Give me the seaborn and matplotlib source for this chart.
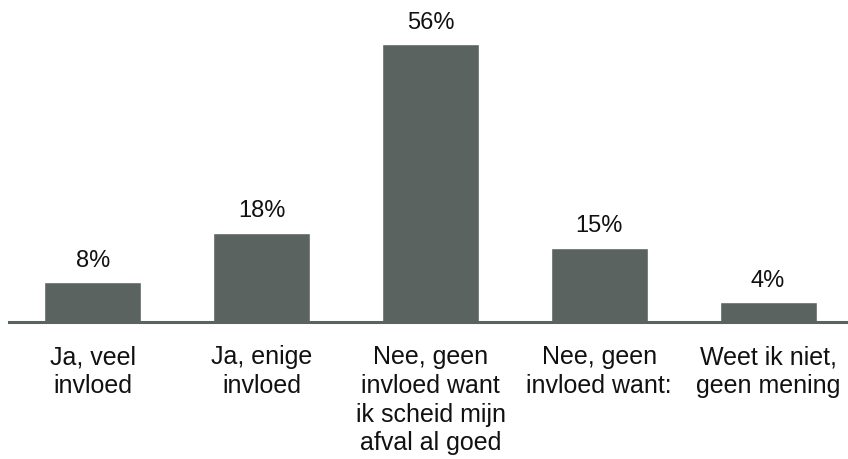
import matplotlib
matplotlib.use("Agg")
import matplotlib.pyplot as plt
import seaborn as sns
import pandas as pd

categories = ["Ja, veel\ninvloed", "Ja, enige\ninvloed",
              "Nee, geen\ninvloed want\nik scheid mijn\nafval al goed",
              "Nee, geen\ninvloed want:", "Weet ik niet,\ngeen mening"]
values = [8, 18, 56, 15, 4]
labels = ["8%", "18%", "56%", "15%", "4%"]

sns.set_theme(style="white")
plt.rcParams['font.family'] = ['Liberation Sans', 'DejaVu Sans']

df = pd.DataFrame({"cat": categories, "val": values})
fig = plt.figure(figsize=(8.48, 4.6), dpi=100)
ax = fig.add_axes([8.6/848, 137/460, 843.8/848, 323/460])
sns.barplot(data=df, x="cat", y="val", color="#5a6360", saturation=1,
            width=0.575, ax=ax)
ax.set_xlim(-0.5, 4.5)
ax.set_ylim(0, 65.1)
for i, (v, l) in enumerate(zip(values, labels)):
    ax.text(i, v + 2.3, l, ha="center", va="bottom", fontsize=17, color="#111111")
for s in ["top", "right", "left"]:
    ax.spines[s].set_visible(False)
ax.spines["bottom"].set_color("#5a6360")
ax.spines["bottom"].set_linewidth(2.2)
ax.spines["bottom"].set_bounds(-0.5, 4.5)
ax.set_yticks([])
ax.set_xlabel("")
ax.set_ylabel("")
ax.tick_params(axis="x", length=0, pad=16, labelsize=18, labelcolor="#111111")
for t in ax.get_xticklabels():
    t.set_linespacing(1.25)
fig.savefig("out.png", dpi=100)
